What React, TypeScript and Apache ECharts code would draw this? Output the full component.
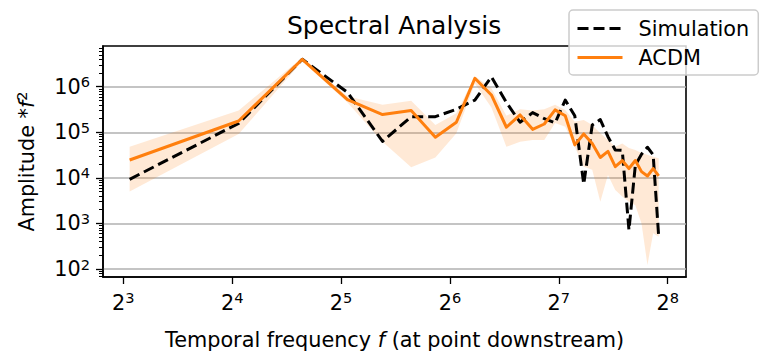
import React, { useEffect, useRef } from 'react';
import * as echarts from 'echarts';

const FREQ = [
  8.33, 16.67, 25.0, 33.33, 41.67, 50.0, 58.33, 66.67, 75.0, 83.33,
  91.67, 100.0, 108.33, 116.67, 125.0, 133.33, 141.67, 150.0, 158.33, 166.67,
  175.0, 183.33, 191.67, 200.0, 208.33, 216.67, 225.0, 233.33, 241.67,
];

const SIMULATION = [
  9.3e3, 1.57e5, 4.0e6, 7.5e5, 6.3e4, 2.2e5, 2.2e5, 3.2e5, 5.1e5, 1.65e6,
  4.5e5, 1.66e5, 2.7e5, 2.0e5, 1.6e5, 5.1e5, 2.3e5, 7.3e3, 1.45e5, 1.9e5,
  8.0e4, 4.1e4, 4.0e4, 7.2e2, 1.9e4, 3.3e4, 4.7e4, 3.2e4, 5.3e2,
];

const ACDM = [
  2.47e4, 1.77e5, 4.0e6, 5.2e5, 2.45e5, 3.0e5, 7.8e4, 1.66e5, 1.53e6, 6.6e5,
  1.29e5, 2.4e5, 1.16e5, 1.52e5, 3.1e5, 2.3e5, 5.3e4, 9.2e4, 5.7e4, 2.8e4,
  3.8e4, 1.76e4, 2.4e4, 1.6e4, 2.4e4, 1.37e4, 1.1e4, 1.6e4, 1.1e4,
];

const ACDM_UPPER = [
  4.8e4, 3.0e5, 4.4e6, 6.2e5, 4.0e5, 4.9e5, 1.45e5, 2.6e5, 1.7e6, 9.2e5,
  2.3e5, 3.2e5, 3.0e5, 3.2e5, 4.0e5, 3.1e5, 1.7e5, 1.86e5, 1.45e5, 9.5e4,
  6.8e4, 4.8e4, 5.7e4, 4.5e4, 4.1e4, 3.5e4, 3.2e4, 2.9e4, 2.7e4,
];

const ACDM_LOWER = [
  5.0e3, 9.2e4, 3.6e6, 4.5e5, 6.2e4, 1.7e4, 2.8e4, 9.5e4, 1.18e6, 3.5e5,
  4.8e4, 6.2e4, 6.8e4, 6.8e4, 1.6e5, 1.33e5, 4.8e4, 1.76e4, 1.5e4, 3.0e3,
  1.15e4, 5.4e3, 3.9e3, 3.0e3, 2.5e3, 1.0e3, 1.23e2, 6.1e2, 5.1e2,
];

const X_TICKS = [8, 16, 32, 64, 128, 256];
const Y_TICKS = [1e2, 1e3, 1e4, 1e5, 1e6];
const Y_MINOR_MULT = [2, 3, 4, 5, 6, 7, 8, 9];

const X_MIN = 7.03;
const X_MAX = 287.6;
const Y_MIN = 66.8;
const Y_MAX = 7.82e6;

const FONT = 'DejaVu Sans';
const FS = 20.8;
const FS_SUP = 14.6;

export default function App() {
  const ref = useRef<HTMLDivElement>(null);

  useEffect(() => {
    const chart = echarts.init(ref.current!, null, { renderer: 'svg' });

    const minorY: number[] = [];
    [10, ...Y_TICKS].forEach((d) => {
      Y_MINOR_MULT.forEach((m) => {
        const v = m * d;
        if (v > Y_MIN && v < Y_MAX) minorY.push(v);
      });
    });

    const supRich = {
      b: { fontSize: FS, fontFamily: FONT, color: '#000' },
      e: { fontSize: FS_SUP, fontFamily: FONT, color: '#000', padding: [0, 0, 10, 0] },
    };

    const option: any = {
      animation: false,
      title: {
        text: 'Spectral Analysis',
        left: 287,
        top: 13,
        padding: 0,
        textStyle: { fontSize: 25, fontWeight: 'normal', fontFamily: FONT, color: '#000' },
      },
      legend: {
        data: ['Simulation', 'ACDM'],
        orient: 'vertical',
        left: 569,
        top: 10,
        padding: [8, 9, 7, 7],
        itemWidth: 45,
        itemHeight: 14,
        itemGap: 8,
        backgroundColor: 'rgba(255,255,255,0.8)',
        borderColor: '#cccccc',
        borderWidth: 1.5,
        borderRadius: 4,
        itemStyle: { opacity: 0 },
        lineStyle: { width: 3 },
        textStyle: { fontSize: FS, fontFamily: FONT, color: '#000', padding: [0, 0, 0, 11] },
      },
      grid: {
        left: 103,
        top: 46,
        width: 583,
        height: 231,
        show: true,
        borderColor: '#000',
        borderWidth: 1.6,
        backgroundColor: 'transparent',
        outerBoundsMode: 'none',
      },
      xAxis: {
        type: 'log',
        logBase: 2,
        min: X_MIN,
        max: X_MAX,
        name: 'Temporal frequency {i|f} (at point downstream)',
        nameLocation: 'middle',
        nameGap: 52,
        nameTextStyle: {
          fontSize: FS,
          fontFamily: FONT,
          color: '#000',
          rich: { i: { fontSize: FS, fontFamily: FONT, fontStyle: 'italic', color: '#000' } },
        },
        axisLine: { show: true, lineStyle: { color: '#000', width: 1.6 } },
        axisTick: { show: true, customValues: X_TICKS, length: 7, lineStyle: { color: '#000', width: 1.3 } },
        minorTick: { show: false },
        splitLine: { show: false },
        axisLabel: {
          customValues: X_TICKS,
          margin: 13,
          formatter: (v: number) => `{b|2}{e|${Math.round(Math.log2(v))}}`,
          rich: supRich,
        },
      },
      yAxis: [
        {
          type: 'log',
          logBase: 10,
          min: Y_MIN,
          max: Y_MAX,
          position: 'left',
          name: 'Amplitude *{i|f}{s|2}',
          nameLocation: 'middle',
          nameRotate: 90,
          nameGap: 64,
          nameTextStyle: {
            fontSize: FS,
            fontFamily: FONT,
            color: '#000',
            rich: {
              i: { fontSize: FS, fontFamily: FONT, fontStyle: 'italic', color: '#000' },
              s: { fontSize: FS_SUP, fontFamily: FONT, color: '#000', padding: [0, 0, 10, 0] },
            },
          },
          axisLine: { show: true, lineStyle: { color: '#000', width: 1.6 } },
          axisTick: { show: true, customValues: Y_TICKS, length: 7, lineStyle: { color: '#000', width: 1.3 } },
          minorTick: { show: false },
          splitLine: { show: true, lineStyle: { color: '#b0b0b0', width: 1.6 } },
          axisLabel: {
            customValues: Y_TICKS,
            margin: 13,
            formatter: (v: number) => `{b|10}{e|${Math.round(Math.log10(v))}}`,
            rich: supRich,
          },
        },
        {
          type: 'log',
          logBase: 10,
          min: Y_MIN,
          max: Y_MAX,
          position: 'left',
          offset: 0,
          axisLine: { show: false },
          axisTick: { show: true, customValues: minorY, length: 4, lineStyle: { color: '#000', width: 1.0 } },
          minorTick: { show: false },
          splitLine: { show: false },
          axisLabel: { show: false },
        },
      ],
      series: [
        {
          name: 'band',
          type: 'custom',
          silent: true,
          z: 1,
          data: FREQ.map((f, i) => [f, ACDM_LOWER[i], ACDM_UPPER[i]]),
          encode: { x: 0, y: [1, 2] },
          renderItem: (params: any, api: any) => {
            if (params.dataIndex !== 0) return null;
            const pts: number[][] = [];
            for (let i = 0; i < FREQ.length; i++) pts.push(api.coord([FREQ[i], ACDM_UPPER[i]]));
            for (let i = FREQ.length - 1; i >= 0; i--) pts.push(api.coord([FREQ[i], ACDM_LOWER[i]]));
            return {
              type: 'polygon',
              shape: { points: pts },
              style: { fill: 'rgba(255,127,14,0.17)', stroke: 'none' },
            };
          },
        },
        {
          name: 'Simulation',
          type: 'line',
          z: 3,
          symbol: 'none',
          data: FREQ.map((f, i) => [f, SIMULATION[i]]),
          lineStyle: { color: '#000', width: 3, type: [11, 5], join: 'round' },
          itemStyle: { color: '#000' },
        },
        {
          name: 'ACDM',
          type: 'line',
          z: 4,
          symbol: 'none',
          data: FREQ.map((f, i) => [f, ACDM[i]]),
          lineStyle: { color: '#ff7f0e', width: 3, join: 'round' },
          itemStyle: { color: '#ff7f0e' },
        },
      ],
    };

    chart.setOption(option);
    return () => chart.dispose();
  }, []);

  return (
    <div
      ref={ref}
      style={{ position: 'fixed', left: 0, top: 0, width: 765, height: 364, background: '#fff' }}
    />
  );
}
